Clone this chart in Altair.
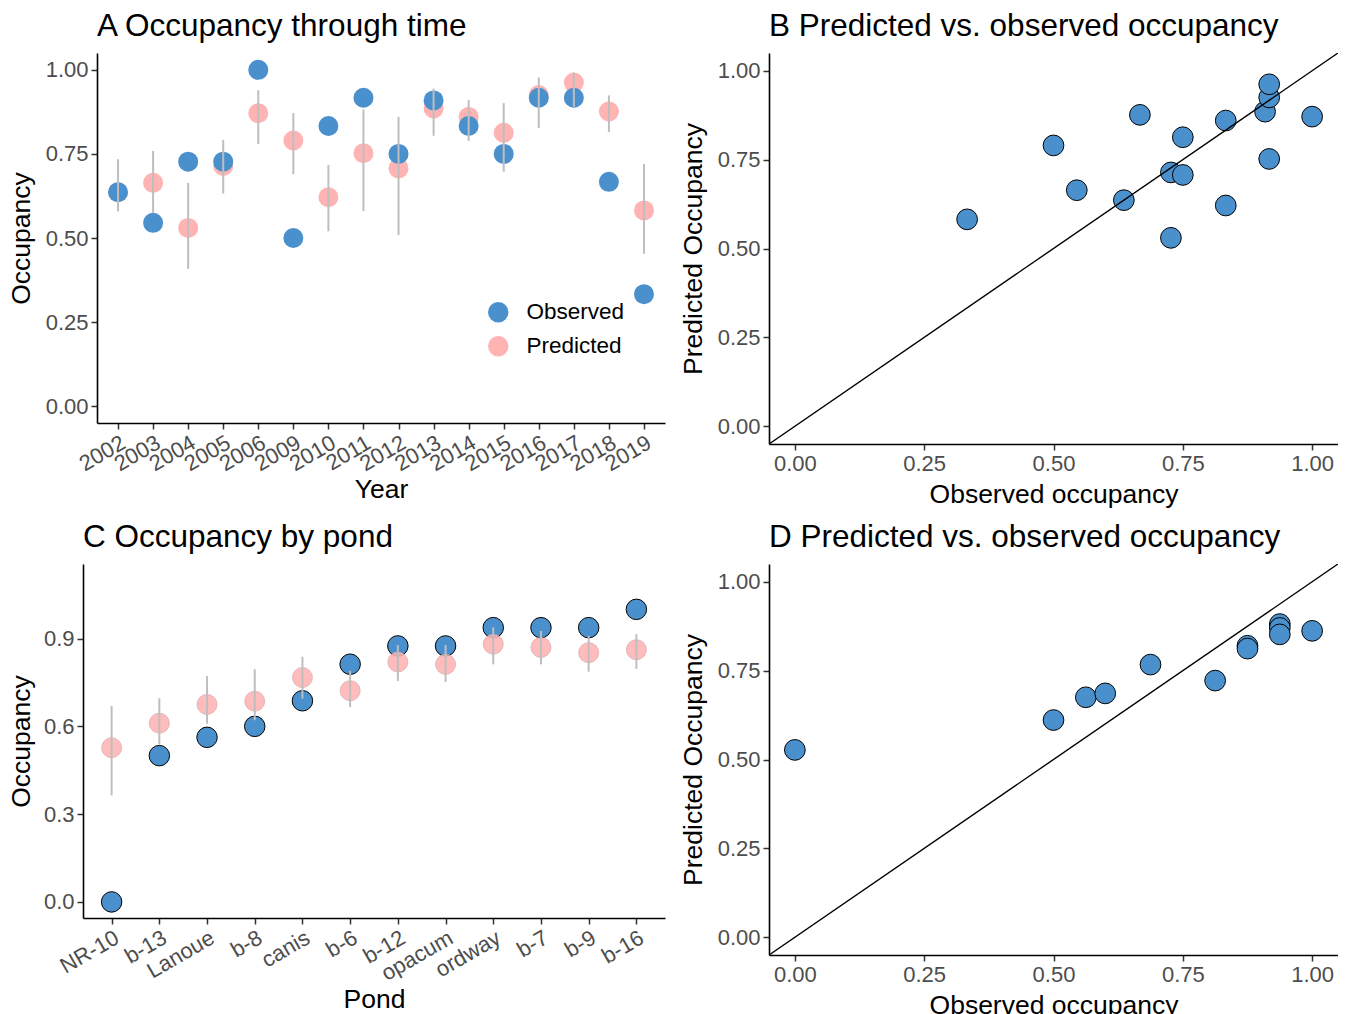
import altair as alt
import pandas as pd

FONT = "Liberation Sans"
BLUE = "#4A90CD"
PINK = "#FFB3B3"
BARC = "#BEBEBE"

# ---------------- data ----------------
years = ["2002", "2003", "2004", "2005", "2006", "2009", "2010", "2011",
         "2012", "2013", "2014", "2015", "2016", "2017", "2018", "2019"]
year_obs = [0.636, 0.545, 0.727, 0.727, 1.000, 0.500, 0.833, 0.917,
            0.750, 0.909, 0.833, 0.750, 0.917, 0.917, 0.667, 0.333]
year_pred = [0.636, 0.664, 0.530, 0.714, 0.871, 0.790, 0.621, 0.752,
             0.707, 0.885, 0.860, 0.813, 0.925, 0.962, 0.876, 0.582]
year_lo = [0.579, 0.575, 0.408, 0.632, 0.779, 0.690, 0.520, 0.580,
           0.509, 0.804, 0.789, 0.697, 0.827, 0.890, 0.815, 0.453]
year_hi = [0.734, 0.759, 0.664, 0.792, 0.939, 0.871, 0.717, 0.882,
           0.860, 0.944, 0.910, 0.901, 0.977, 0.992, 0.924, 0.720]

ponds = ["NR-10", "b-13", "Lanoue", "b-8", "canis", "b-6", "b-12",
         "opacum", "ordway", "b-7", "b-9", "b-16"]
pond_obs = [0.0, 0.5, 0.5625, 0.6, 0.6875, 0.8125, 0.875, 0.875,
            0.9375, 0.9375, 0.9375, 1.0]
pond_pred = [0.527, 0.611, 0.675, 0.686, 0.767, 0.722, 0.820, 0.812,
             0.881, 0.870, 0.852, 0.862]
pond_lo = [0.364, 0.538, 0.609, 0.621, 0.695, 0.666, 0.755, 0.752,
           0.812, 0.812, 0.787, 0.797]
pond_hi = [0.670, 0.696, 0.772, 0.795, 0.838, 0.790, 0.878, 0.878,
           0.938, 0.926, 0.909, 0.915]

series = ["Observed", "Predicted"]
diag = [-0.05, 1.05]

# ---------------- helpers ----------------
def title(text):
    return alt.TitleParams(text=text, anchor="start", frame="group", font=FONT,
                           fontSize=31.5, fontWeight="normal", color="black",
                           baseline="alphabetic", offset=-14)

def yq(field, dom, vals, fmt, ttl, tpad=10):
    return alt.Y(field, type="quantitative",
                 scale=alt.Scale(domain=dom, nice=False, zero=False),
                 axis=alt.Axis(values=vals, format=fmt, title=ttl, titlePadding=tpad))

def xq(field, ttl):
    return alt.X(field, type="quantitative",
                 scale=alt.Scale(domain=[-0.05, 1.05], nice=False, zero=False),
                 axis=alt.Axis(values=[0, 0.25, 0.5, 0.75, 1.0], format=".2f",
                               title=ttl, titlePadding=7))

def xcat(field, order, ttl):
    return alt.X(field, type="nominal", sort=order,
                 scale=alt.Scale(type="point", padding=0.6),
                 axis=alt.Axis(title=ttl, labelAngle=330, labelAlign="right",
                               labelBaseline="top", titlePadding=2))

# ---------------- Panel A ----------------
dfA = pd.DataFrame({
    "Year": years + years,
    "Series": ["Predicted"] * len(years) + ["Observed"] * len(years),
    "Value": year_pred + year_obs,
    "ord": list(range(2 * len(years))),
})
dfAbar = pd.DataFrame({"Year": years, "lo": year_lo, "hi": year_hi})
yA_dom = [-0.05, 1.05]
yA_vals = [0, 0.25, 0.5, 0.75, 1.0]

ptsA = alt.Chart(dfA).mark_circle(size=400, opacity=1).encode(
    x=xcat("Year", years, "Year"),
    y=yq("Value", yA_dom, yA_vals, ".2f", "Occupancy"),
    color=alt.Color("Series:N",
                    scale=alt.Scale(domain=series, range=[BLUE, PINK]),
                    legend=alt.Legend(orient="none", legendX=480, legendY=248,
                                      title=None, labelFont=FONT, labelFontSize=22.5,
                                      labelColor="black", symbolType="circle",
                                      symbolSize=420, symbolStrokeWidth=0,
                                      rowPadding=11, labelOffset=17, padding=0)),
    order=alt.Order("ord:Q"),
)
barsA = alt.Chart(dfAbar).mark_rule(color=BARC, strokeWidth=2).encode(
    x=xcat("Year", years, "Year"),
    y=yq("lo", yA_dom, yA_vals, ".2f", "Occupancy"),
    y2="hi",
)
panelA = alt.layer(ptsA, barsA).properties(
    width=568, height=370, title=title("A Occupancy through time"))

# ---------------- Panel B ----------------
dfB = pd.DataFrame({"obs": year_obs, "pred": year_pred})
dfL = pd.DataFrame({"v": diag})
ptsB = alt.Chart(dfB).mark_circle(size=430, opacity=1, fill=BLUE, stroke="black",
                                  strokeWidth=1).encode(
    x=xq("obs", "Observed occupancy"),
    y=yq("pred", [-0.05, 1.05], yA_vals, ".2f", "Predicted Occupancy"),
)
lineB = alt.Chart(dfL).mark_line(color="black", strokeWidth=1.4, clip=True).encode(
    x=xq("v", "Observed occupancy"),
    y=yq("v", [-0.05, 1.05], yA_vals, ".2f", "Predicted Occupancy"),
)
panelB = alt.layer(ptsB, lineB).properties(
    width=569, height=391, title=title("B Predicted vs. observed occupancy"))

# ---------------- Panel C ----------------
dfCo = pd.DataFrame({"Pond": ponds, "Value": pond_obs})
dfCp = pd.DataFrame({"Pond": ponds, "Value": pond_pred})
dfCbar = pd.DataFrame({"Pond": ponds, "lo": pond_lo, "hi": pond_hi})
yC_dom = [-0.055, 1.155]
yC_vals = [0, 0.3, 0.6, 0.9]

obsC = alt.Chart(dfCo).mark_circle(size=420, opacity=1, fill=BLUE, stroke="black",
                                   strokeWidth=1).encode(
    x=xcat("Pond", ponds, "Pond"),
    y=yq("Value", yC_dom, yC_vals, ".1f", "Occupancy", 8),
)
predC = alt.Chart(dfCp).mark_circle(size=400, opacity=0.88, fill=PINK,
                                    stroke="#D9A3A3", strokeWidth=0.8).encode(
    x=xcat("Pond", ponds, "Pond"),
    y=yq("Value", yC_dom, yC_vals, ".1f", "Occupancy", 8),
)
barsC = alt.Chart(dfCbar).mark_rule(color=BARC, strokeWidth=2).encode(
    x=xcat("Pond", ponds, "Pond"),
    y=yq("lo", yC_dom, yC_vals, ".1f", "Occupancy", 8),
    y2="hi",
)
panelC = alt.layer(obsC, predC, barsC).properties(
    width=582, height=354, title=title("C Occupancy by pond"))

# ---------------- Panel D ----------------
dfD = pd.DataFrame({"obs": pond_obs, "pred": pond_pred})
ptsD = alt.Chart(dfD).mark_circle(size=430, opacity=1, fill=BLUE, stroke="black",
                                  strokeWidth=1).encode(
    x=xq("obs", "Observed occupancy"),
    y=yq("pred", [-0.05, 1.05], yA_vals, ".2f", "Predicted Occupancy"),
)
lineD = alt.Chart(dfL).mark_line(color="black", strokeWidth=1.4, clip=True).encode(
    x=xq("v", "Observed occupancy"),
    y=yq("v", [-0.05, 1.05], yA_vals, ".2f", "Predicted Occupancy"),
)
panelD = alt.layer(ptsD, lineD).properties(
    width=569, height=391, title=title("D Predicted vs. observed occupancy"))

# ---------------- layout ----------------
# invisible 1px spacers: they anchor each row, so panels flow from their own left edges
def spacer():
    return alt.Chart(pd.DataFrame({"s": [0]})).mark_rect(opacity=0).encode(
        x=alt.value(0), x2=alt.value(1), y=alt.value(0), y2=alt.value(1)
    ).properties(width=1, height=1)

row1 = alt.hconcat(alt.hconcat(spacer(), panelA, spacing=0), panelB, spacing=15)
row2 = alt.hconcat(alt.hconcat(spacer(), panelC, spacing=0), panelD, spacing=15)
chart = alt.vconcat(row1, row2, spacing=13).properties(
    padding={"left": 7, "top": 10, "right": 0, "bottom": 0}
).configure_axis(
    labelFont=FONT, titleFont=FONT, labelFontSize=22, titleFontSize=26.5,
    labelColor="#4D4D4D", titleColor="black", titleFontWeight="normal",
    domainColor="black", domainWidth=1.6, tickColor="#333333", tickWidth=1.5,
    tickSize=6, labelPadding=3, titlePadding=10, grid=False,
).configure_view(stroke=None)

chart.save("out.html", embed_options={"renderer": "svg", "actions": False})
